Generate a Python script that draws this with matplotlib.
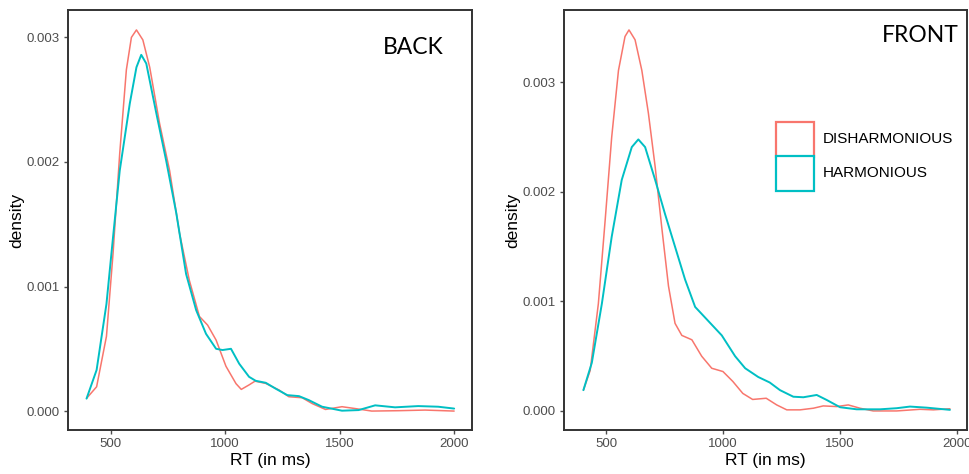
import matplotlib
matplotlib.use("Agg")
import matplotlib.pyplot as plt
from matplotlib.patches import Rectangle

# ---- data ----
back_dis_x = [394, 438, 481, 510, 539, 568, 590, 612, 640, 670, 713, 757, 800, 843, 887, 923, 960,
              1003, 1047, 1070, 1104, 1130, 1177, 1235, 1278, 1336, 1380, 1438, 1510, 1568, 1640,
              1757, 1873, 2000]
back_dis_y = [0.000102, 0.000195, 0.0006, 0.00127, 0.00207, 0.00274, 0.0030, 0.00306, 0.00298,
              0.00276, 0.00231, 0.00193, 0.00143, 0.00105, 0.00076, 0.00069, 0.00057, 0.00036,
              0.00022, 0.000174, 0.00021, 0.00024, 0.000222, 0.000169, 0.000115, 0.000107, 0.00006,
              0.000013, 0.000035, 0.00002, 0.0, 0.000003, 0.000008, 0.0]
back_har_x = [394, 438, 481, 510, 539, 583, 612, 633, 655, 699, 742, 786, 829, 873, 916, 960, 988,
              1025, 1061, 1104, 1133, 1177, 1220, 1271, 1322, 1365, 1423, 1510, 1583, 1655, 1742,
              1843, 1930, 2000]
back_har_y = [0.0001, 0.00033, 0.00086, 0.0014, 0.00193, 0.00247, 0.00276, 0.00286, 0.00279, 0.00239,
              0.00201, 0.00159, 0.0011, 0.00081, 0.00062, 0.0005, 0.00049, 0.0005, 0.00038, 0.000275,
              0.000243, 0.000227, 0.00018, 0.000128, 0.00012, 0.000088, 0.000035, 0.000003,
              0.000008, 0.000046, 0.00003, 0.00004, 0.000035, 0.00002]

front_dis_x = [403, 432, 467, 496, 524, 553, 581, 598, 624, 653, 681, 710, 738, 767, 795, 824, 867,
               909, 952, 1000, 1042, 1085, 1127, 1185, 1230, 1273, 1330, 1387, 1429, 1487, 1536, 1586,
               1643, 1743, 1843, 1900, 1971]
front_dis_y = [0.00019, 0.00037, 0.00098, 0.00174, 0.0025, 0.00311, 0.00342, 0.00348, 0.00339,
               0.00311, 0.00272, 0.00223, 0.00168, 0.00114, 0.0008, 0.00069, 0.00065, 0.0005, 0.00039,
               0.00036, 0.00027, 0.00016, 0.000105, 0.000116, 0.000055, 0.00001, 0.00001, 0.000025,
               0.000046, 0.00004, 0.000055, 0.000025, 0.0, 0.0, 0.000015, 0.00001, 0.00002]
front_har_x = [403, 439, 482, 524, 567, 610, 638, 667, 710, 752, 795, 838, 881, 938, 995, 1052, 1095,
               1151, 1200, 1244, 1301, 1344, 1401, 1444, 1501, 1572, 1672, 1743, 1800, 1872, 1971]
front_har_y = [0.00019, 0.00044, 0.00098, 0.00159, 0.00211, 0.00241, 0.00248, 0.00241, 0.00211,
               0.0018, 0.0015, 0.0012, 0.00095, 0.00082, 0.00069, 0.0005, 0.00039, 0.00031, 0.00026,
               0.00019, 0.00013, 0.000125, 0.000146, 0.0001, 0.000034, 0.000015, 0.000015, 0.000025,
               0.00004, 0.00003, 0.00001]

x_ticks = [500, 1000, 1500, 2000]
y_ticks = [0.000, 0.001, 0.002, 0.003]
y_tick_labels = ["0.000", "0.001", "0.002", "0.003"]
series_names = ["DISHARMONIOUS", "HARMONIOUS"]
series_colors = ["#F8766D", "#00BFC4"]

plt.rcParams["font.family"] = ["Liberation Sans", "DejaVu Sans"]

fig = plt.figure(figsize=(9.69, 4.74), dpi=100)
ax1 = fig.add_axes([68/969, 1-430/474, 404/969, 420/474])
ax2 = fig.add_axes([564/969, 1-430/474, 403/969, 420/474])

panels = [
    (ax1, back_dis_x, back_dis_y, back_har_x, back_har_y, "BACK", (313, 2078), (-0.000152, 0.00322),
     (444, 48)),
    (ax2, front_dis_x, front_dis_y, front_har_x, front_har_y, "FRONT", (320, 2044), (-0.000174, 0.003662),
     (959, 35)),
]

for ax, dx, dy, hx, hy, title, xl, yl, tpos in panels:
    ax.plot(dx, dy, color=series_colors[0], lw=1.1, solid_joinstyle="round", solid_capstyle="round")
    ax.plot(hx, hy, color=series_colors[1], lw=1.4, solid_joinstyle="round", solid_capstyle="round")
    ax.set_xlim(*xl)
    ax.set_ylim(*yl)
    ax.set_xticks(x_ticks)
    ax.set_xticklabels([str(t) for t in x_ticks])
    ax.set_yticks(y_ticks)
    ax.set_yticklabels(y_tick_labels)
    ax.tick_params(labelsize=9.5, colors="#4d4d4d", length=3, width=1, pad=3)
    for s in ax.spines.values():
        s.set_color("#333333")
        s.set_linewidth(1.4)
    ax.set_xlabel("RT (in ms)", fontsize=12.5, color="black", labelpad=2)
    ax.set_ylabel("density", fontsize=12.5, color="black", labelpad=1.5)
    fx, fy = tpos
    fig.text(fx/969, 1 - fy/474, title, ha="right", va="center", fontsize=16.5,
             family=["Lato", "DejaVu Sans"], color="black")

# legend drawn as outlined boxes with labels (ggplot style)
box_x0 = (776 - 564) / 403
box_w = 38 / 403
row_tops = [(430 - 122) / 420, (430 - 156) / 420]
row_h = 34.5 / 420
for name, col, top in zip(series_names, series_colors, row_tops):
    ax2.add_patch(Rectangle((box_x0, top - row_h), box_w, row_h, transform=ax2.transAxes,
                            facecolor="white", edgecolor=col, linewidth=1.6, clip_on=False))
    ax2.text((823 - 564) / 403, top - row_h / 2, name, transform=ax2.transAxes,
             ha="left", va="center", fontsize=11, color="black")

fig.savefig("out.png", dpi=100)
